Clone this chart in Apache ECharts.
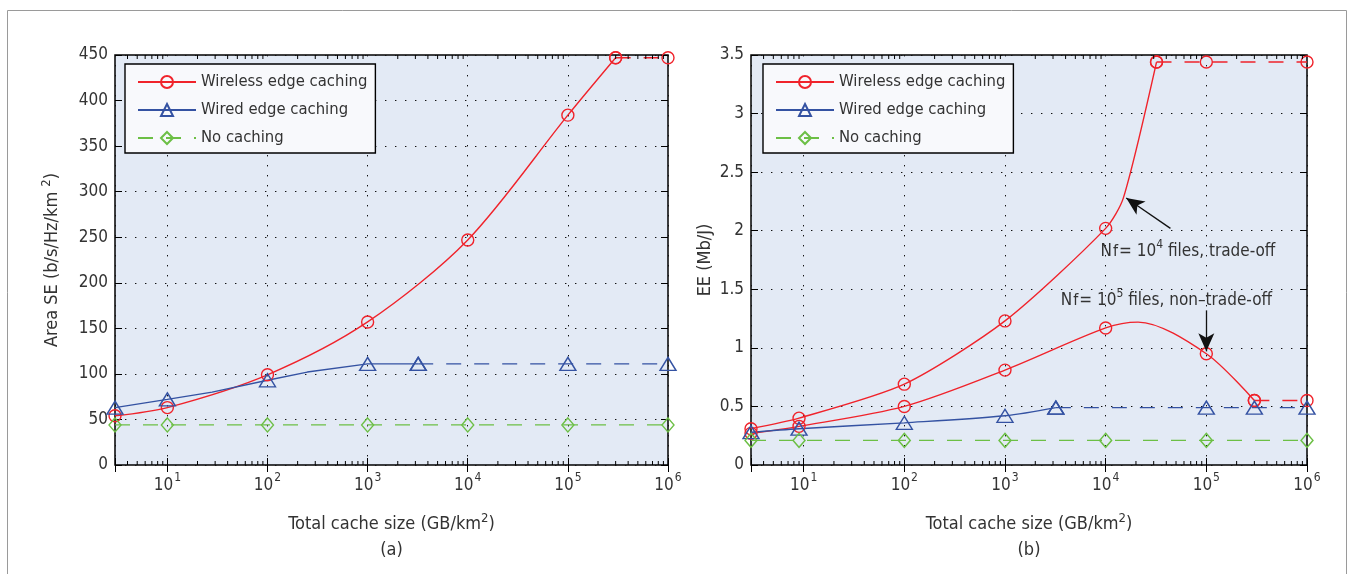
<!DOCTYPE html>
<html lang="en">
<head>
<meta charset="UTF-8">
<title>Wireless edge caching</title>
<script src="https://cdn.jsdelivr.net/npm/echarts@6/dist/echarts.min.js"></script>
<style>
  html, body { margin: 0; padding: 0; background: #fff; }
  #main { width: 1354px; height: 574px; }
</style>
</head>
<body>
<div id="main"></div>
<script>
// ---- data ----
var seriesNames = ['Wireless edge caching', 'Wired edge caching', 'No caching'];

// (a) Area SE (b/s/Hz/km^2)
var seWirelessSolid = [[3, 54], [10, 63], [100, 99], [1000, 157], [10000, 247], [100000, 384], [300000, 447]];
var seWirelessDash = [[300000, 447], [1000000, 447]];
var seWiredSolid = [[3, 63], [10, 72], [100, 93], [1000, 111], [3200, 111]];
var seWiredBends = [[28, 80], [250, 102]];           // unmarked points on the curve
var seWiredDash = [[3200, 111], [100000, 111], [1000000, 111]];
var seNoCache = [[3, 44], [10, 44], [100, 44], [1000, 44], [10000, 44], [100000, 44], [1000000, 44]];

// (b) EE (Mb/J)
var eeTradeSolid = [[3, 0.31], [9, 0.40], [100, 0.69], [1000, 1.23], [10000, 2.02], [32000, 3.44]];
var eeTradeBends = [[15000, 2.28]];
var eeTradeDash = [[32000, 3.44], [100000, 3.44], [1000000, 3.44]];
var eeNonSolid = [[3, 0.27], [9, 0.33], [100, 0.50], [1000, 0.81], [10000, 1.17], [100000, 0.95], [300000, 0.55]];
var eeNonBends = [[21000, 1.22]];
var eeNonDash = [[300000, 0.55], [1000000, 0.55]];
var eeWiredSolid = [[3, 0.28], [9, 0.31], [100, 0.36], [1000, 0.42], [3200, 0.49]];
var eeWiredDash = [[3200, 0.49], [100000, 0.49], [300000, 0.49], [1000000, 0.49]];
var eeNoCache = [[3, 0.21], [9, 0.21], [100, 0.21], [1000, 0.21], [10000, 0.21], [100000, 0.21], [1000000, 0.21]];

// annotations (data coords)
var noteTrade = { at: [8900, 1.84], pow: 4, tail: ' files, trade-off', arrow: [[44000, 2.02], [16000, 2.28]] };
var noteNon = { at: [3590, 1.42], pow: 5, tail: ' files, non\u2013trade-off', arrow: [[100000, 1.32], [100000, 0.97]] };

// ---- styling ----
var FONT = '"DejaVu Sans Condensed", "Liberation Sans Narrow", sans-serif';
var TXT = '#333';
var RED = '#F0232B', BLUE = '#3452A2', GREEN = '#6CBF45';
var BG = '#E3EAF5';

var myChart = echarts.init(document.getElementById('main'));

function powLabel(v) {
  var e = Math.round(Math.log10(v));
  if (Math.abs(Math.pow(10, e) - v) > 1e-6 * v) return '';
  return '{b|10}{s|' + e + '}';
}
var powRich = {
  b: { fontSize: 17, fontFamily: FONT, color: TXT, lineHeight: 18, verticalAlign: 'bottom' },
  s: { fontSize: 12, fontFamily: FONT, color: TXT, padding: [0, 0, 10, 1], verticalAlign: 'bottom' }
};
var nameRich = {
  a: { fontSize: 18, fontFamily: FONT, color: TXT, verticalAlign: 'bottom' },
  s: { fontSize: 13, fontFamily: FONT, color: TXT, padding: [0, 0, 8, 0], verticalAlign: 'bottom' }
};

var dotted = { show: true, lineStyle: { color: '#111', width: 1, type: [1.4, 8.6] } };

function xAxes(grid) {
  return [{
    type: 'log', logBase: 10, min: 3, max: 1000000, gridIndex: grid,
    axisLine: { show: false },
    axisTick: { inside: true, length: 7, lineStyle: { color: '#000' } },
    axisLabel: { formatter: powLabel, rich: powRich, margin: 7 },
    splitLine: dotted,
    name: '{a|Total cache size (GB/km}{s|2}{a|)}',
    nameLocation: 'middle', nameGap: 47,
    nameTextStyle: { rich: nameRich }
  }, {
    type: 'log', logBase: 10, min: 3, max: 1000000, gridIndex: grid, position: 'top',
    axisLine: { show: false },
    axisTick: { inside: true, length: 7, lineStyle: { color: '#000' } },
    axisLabel: { show: false }, splitLine: { show: false }
  }];
}
function yAxes(grid, max, interval, name, gap) {
  return [{
    type: 'value', min: 0, max: max, interval: interval, gridIndex: grid,
    axisLine: { show: false },
    axisTick: { inside: true, length: 7, lineStyle: { color: '#000' } },
    axisLabel: { color: TXT, fontSize: 17, fontFamily: FONT, margin: 7 },
    splitLine: dotted,
    name: name, nameLocation: 'middle', nameGap: gap,
    nameTextStyle: { rich: nameRich }
  }, {
    type: 'value', min: 0, max: max, interval: interval, gridIndex: grid, position: 'right',
    axisLine: { show: false },
    axisTick: { inside: true, length: 7, lineStyle: { color: '#000' } },
    axisLabel: { show: false }, splitLine: { show: false }
  }];
}

var symbols = {
  'Wireless edge caching': { symbol: 'circle', size: 12, color: RED },
  'Wired edge caching': { symbol: 'triangle', size: [16, 13], color: BLUE },
  'No caching': { symbol: 'diamond', size: [12, 14], color: GREEN }
};

function line(name, pts, bends, dashed, axis, smooth) {
  var s = symbols[name];
  var data = pts.map(function (p) { return { value: p }; });
  (bends || []).forEach(function (p) { data.push({ value: p, symbol: 'none' }); });
  data.sort(function (a, b) { return a.value[0] - b.value[0]; });
  return {
    name: name, type: 'line', xAxisIndex: axis, yAxisIndex: axis,
    data: data, smooth: smooth || false,
    symbol: s.symbol, symbolSize: s.size, showAllSymbol: true,
    itemStyle: { color: 'rgba(0,0,0,0)', borderColor: s.color, borderWidth: 1.4 },
    lineStyle: { color: s.color, width: 1.4, type: dashed ? [15, 13] : 'solid' },
    emphasis: { disabled: true }, z: 3
  };
}

// log minor ticks (2..9 per decade) along bottom and top edges
var minorTicks = [];
for (var k = 0; k <= 5; k++) {
  for (var m = 2; m <= 9; m++) {
    var v = m * Math.pow(10, k);
    if (v > 3 && v < 1000000) minorTicks.push([v, 1]);
  }
}
function minorSeries(axis) {
  return {
    type: 'custom', xAxisIndex: axis, yAxisIndex: axis, silent: true, z: 4,
    data: minorTicks,
    renderItem: function (params, api) {
      var x = api.coord([api.value(0), api.value(1)])[0];
      var cs = params.coordSys;
      var st = { stroke: '#000', lineWidth: 1 };
      return {
        type: 'group', children: [
          { type: 'line', shape: { x1: x, y1: cs.y + cs.height, x2: x, y2: cs.y + cs.height - 4 }, style: st },
          { type: 'line', shape: { x1: x, y1: cs.y, x2: x, y2: cs.y + 4 }, style: st }
        ]
      };
    }
  };
}

function legendAt(left) {
  return {
    left: left, top: 64, orient: 'vertical', data: seriesNames, selectedMode: false,
    backgroundColor: '#F8F9FC', borderColor: '#000', borderWidth: 1.4, borderRadius: 0,
    padding: [8, 8, 5, 12], itemGap: 8, itemWidth: 58, itemHeight: 15,
    textStyle: { color: TXT, fontSize: 16.5, fontFamily: FONT, lineHeight: 20 }
  };
}

var arrowMarks = {
  silent: true, animation: false, symbol: ['none', 'arrow'], symbolSize: [12, 18],
  label: { show: false },
  lineStyle: { color: '#111', width: 1.3, type: 'solid' },
  emphasis: { disabled: true },
  data: [
    [{ coord: noteTrade.arrow[0] }, { coord: noteTrade.arrow[1] }],
    [{ coord: noteNon.arrow[0] }, { coord: noteNon.arrow[1] }]
  ]
};

var eeNoCacheSeries = line('No caching', eeNoCache, null, true, 2);
eeNoCacheSeries.markLine = arrowMarks;

var option = {
  animation: false,
  backgroundColor: '#fff',
  grid: [
    { left: 115, top: 55, width: 553, height: 410, show: true, backgroundColor: BG, borderColor: '#000', borderWidth: 1.5 },
    { left: 751, top: 55, width: 556, height: 410, show: true, backgroundColor: BG, borderColor: '#000', borderWidth: 1.5 }
  ],
  xAxis: xAxes(0).concat(xAxes(1)),
  yAxis: yAxes(0, 450, 50, '{a|Area SE (b/s/Hz/km }{s|2}{a|)}', 54).concat(yAxes(1, 3.5, 0.5, '{a|EE (Mb/J)}', 37)),
  legend: [legendAt(125), legendAt(763)],
  series: [
    line('Wireless edge caching', seWirelessSolid, null, false, 0, 0.3),
    line('Wireless edge caching', seWirelessDash, null, true, 0),
    line('Wired edge caching', seWiredSolid, seWiredBends, false, 0),
    line('Wired edge caching', seWiredDash, null, true, 0),
    line('No caching', seNoCache, null, true, 0),
    minorSeries(0),
    line('Wireless edge caching', eeTradeSolid, eeTradeBends, false, 2, 0.25),
    line('Wireless edge caching', eeTradeDash, null, true, 2),
    line('Wireless edge caching', eeNonSolid, eeNonBends, false, 2, 0.3),
    line('Wireless edge caching', eeNonDash, null, true, 2),
    line('Wired edge caching', eeWiredSolid, null, false, 2, 0.3),
    line('Wired edge caching', eeWiredDash, null, true, 2),
    eeNoCacheSeries,
    minorSeries(2)
  ]
};
myChart.setOption(option);

// text pieces placed through the chart's own scales
function noteText(n) {
  var p = myChart.convertToPixel({ gridIndex: 1 }, n.at);
  return {
    type: 'text', x: p[0], y: p[1], z: 10,
    style: {
      text: '{a|N}{f|f}{a|= 10}{s|' + n.pow + '}{a|' + n.tail + '}',
      verticalAlign: 'middle', align: 'left',
      rich: {
        a: { fontSize: 17, fontFamily: FONT, fill: TXT, verticalAlign: 'bottom' },
        f: { fontSize: 16, fontFamily: FONT, fill: TXT, padding: [0, 1, 0, 1], verticalAlign: 'bottom' },
        s: { fontSize: 12, fontFamily: FONT, fill: TXT, padding: [0, 0, 9, 0], verticalAlign: 'bottom' }
      }
    }
  };
}
function caption(grid, txt) {
  var g = option.grid[grid];
  return {
    type: 'text', x: g.left + g.width / 2, y: 550, z: 10,
    style: { text: txt, fontSize: 18, fontFamily: FONT, fill: TXT, align: 'center', verticalAlign: 'middle' }
  };
}
myChart.setOption({
  graphic: [
    { type: 'rect', shape: { x: 7.5, y: 10.5, width: 1339, height: 600 }, style: { fill: 'none', stroke: '#9a9a9a', lineWidth: 1 }, silent: true },
    noteText(noteTrade),
    noteText(noteNon),
    caption(0, '(a)'),
    caption(1, '(b)')
  ]
});
</script>
</body>
</html>
